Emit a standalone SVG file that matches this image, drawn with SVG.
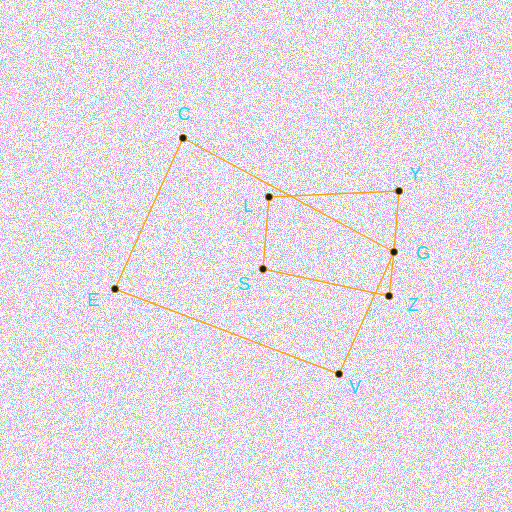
<svg xmlns="http://www.w3.org/2000/svg" width="512" height="512" viewBox="0 0 512 512">
<defs>
<filter id="noise" x="0" y="0" width="100%" height="100%" color-interpolation-filters="sRGB">
<feTurbulence type="fractalNoise" baseFrequency="0.9" numOctaves="2" seed="7" result="t"/>
<feColorMatrix in="t" type="matrix" values="1 0 0 0 0  0 1 0 0 0  0 0 1 0 0  0 0 0 0 1"/>
<feComponentTransfer>
<feFuncR type="discrete" tableValues="1 0.6 1 0.97 1 0.65 1 1 0.75 1 0.6 1"/>
<feFuncG type="discrete" tableValues="0.65 1 0.97 0.6 1 0.9 0.65 1 1 0.75 1 0.65"/>
<feFuncB type="discrete" tableValues="1 0.92 0.6 1 0.8 1 1 0.6 1 1 0.65 0.95"/>
</feComponentTransfer>
</filter>
<style>
.e{stroke:#f5a514;stroke-width:1.4;fill:none}
.n{fill:#1a1a1a;stroke:#b87a10;stroke-width:1.2}
.t{font-family:"Liberation Sans",Arial,sans-serif;font-size:18px;fill:#22d6e6;text-anchor:middle}
</style>
</defs>
<rect width="512" height="512" fill="#ffffff"/>
<rect width="512" height="512" filter="url(#noise)" opacity="0.9"/>
<g id="connectors">
<line class="e" x1="183" y1="138" x2="115" y2="289"/>
<line class="e" x1="183" y1="138" x2="394" y2="252"/>
<line class="e" x1="269" y1="197" x2="399" y2="191"/>
<line class="e" x1="269" y1="197" x2="263" y2="269"/>
<line class="e" x1="399" y1="191" x2="394" y2="252"/>
<line class="e" x1="394" y1="252" x2="389" y2="296"/>
<line class="e" x1="394" y1="252" x2="339" y2="374"/>
<line class="e" x1="263" y1="269" x2="389" y2="296"/>
<line class="e" x1="115" y1="289" x2="339" y2="374"/>
</g>
<g id="C"><circle class="n" cx="183" cy="138" r="3.5"/><text class="t" x="184" y="120">C</text></g>
<g id="L"><circle class="n" cx="269" cy="197" r="3.5"/><text class="t" x="248" y="212">L</text></g>
<g id="Y"><circle class="n" cx="399" cy="191" r="3.5"/><text class="t" x="415" y="180">Y</text></g>
<g id="G"><circle class="n" cx="394" cy="252" r="3.5"/><text class="t" x="423" y="259">G</text></g>
<g id="S"><circle class="n" cx="263" cy="269" r="3.5"/><text class="t" x="244" y="290">S</text></g>
<g id="Z"><circle class="n" cx="389" cy="296" r="3.5"/><text class="t" x="413" y="311">Z</text></g>
<g id="E"><circle class="n" cx="115" cy="289" r="3.5"/><text class="t" x="93" y="306">E</text></g>
<g id="V"><circle class="n" cx="339" cy="374" r="3.5"/><text class="t" x="355" y="393">V</text></g>
</svg>
